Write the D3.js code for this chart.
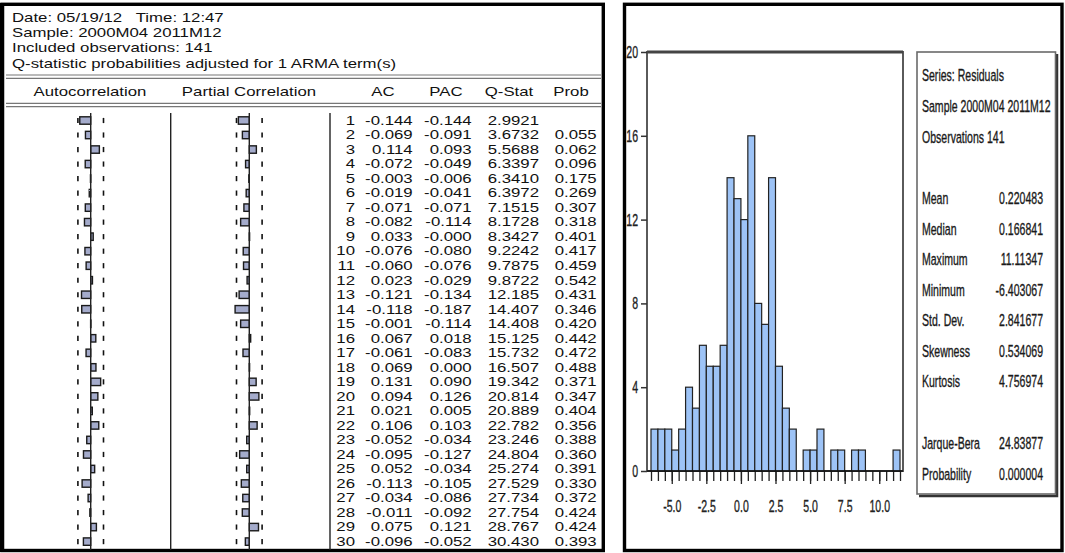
<!DOCTYPE html>
<html>
<head>
<meta charset="utf-8">
<script src="https://cdn.jsdelivr.net/npm/d3@7"></script>
<style>
  body { margin: 0; background: #fff; }
  svg { display: block; }
  text { font-family: 'Liberation Sans', Arial, sans-serif; white-space: pre; }
</style>
</head>
<body>
<svg width="1065" height="553"></svg>
<script>
// ---- correlogram data ----
const headerLines = [
  'Date: 05/19/12   Time: 12:47',
  'Sample: 2000M04 2011M12',
  'Included observations: 141',
  'Q-statistic probabilities adjusted for 1 ARMA term(s)'
];
const lags = [1,2,3,4,5,6,7,8,9,10,11,12,13,14,15,16,17,18,19,20,21,22,23,24,25,26,27,28,29,30];
const acValues = [-0.144,-0.069,0.114,-0.072,-0.003,-0.019,-0.071,-0.082,0.033,-0.076,
                  -0.060,0.023,-0.121,-0.118,-0.001,0.067,-0.061,0.069,0.131,0.094,
                  0.021,0.106,-0.052,-0.095,0.052,-0.113,-0.034,-0.011,0.075,-0.096];
const pacValues = [-0.144,-0.091,0.093,-0.049,-0.006,-0.041,-0.071,-0.114,-0,-0.080,
                   -0.076,-0.029,-0.134,-0.187,-0.114,0.018,-0.083,0.000,0.090,0.126,
                   0.005,0.103,-0.034,-0.127,-0.034,-0.105,-0.086,-0.092,0.121,-0.052];
const qStats = [2.9921,3.6732,5.5688,6.3397,6.3410,6.3972,7.1515,8.1728,8.3427,9.2242,
                9.7875,9.8722,12.185,14.407,14.408,15.125,15.732,16.507,19.342,20.814,
                20.889,22.782,23.246,24.804,25.274,27.529,27.734,27.754,28.767,30.430];
const probs = [null,0.055,0.062,0.096,0.175,0.269,0.307,0.318,0.401,0.417,
               0.459,0.542,0.431,0.346,0.420,0.442,0.472,0.488,0.371,0.347,
               0.404,0.356,0.388,0.360,0.391,0.330,0.372,0.424,0.424,0.393];
const nObs = 141;

// ---- histogram data ----
const binStarts = [-6.5,-6.0,-5.5,-5.0,-4.5,-4.0,-3.5,-3.0,-2.5,-2.0,-1.5,-1.0,-0.5,0.0,0.5,1.0,1.5,2.0,
                   2.5,3.0,3.5,4.0,4.5,5.0,5.5,6.0,6.5,7.0,7.5,8.0,8.5,9.0,9.5,10.0,10.5,11.0];
const binCounts = [2,2,2,1,2,4,3,6,5,5,6,14,13,12,16,8,7,14,
                   5,3,2,0,1,1,2,0,1,1,0,1,1,0,0,0,0,1];
const binWidth = 0.5;
const xTickLabels = [-5.0,-2.5,0.0,2.5,5.0,7.5,10.0];
const yTickLabels = [0,4,8,12,16,20];

const statsHead = ['Series: Residuals','Sample 2000M04 2011M12','Observations 141'];
const statsNames = ['Mean','Median','Maximum','Minimum','Std. Dev.','Skewness','Kurtosis','Jarque-Bera','Probability'];
const statsValues = ['0.220483','0.166841','11.11347','-6.403067','2.841677','0.534069','4.756974','24.83877','0.000004'];

const svg = d3.select('svg');

// text helper: stretched / narrowed text like the screenshot
const addText = (g, x, y, s, o = {}) => g.append('text')
  .attr('transform', `translate(${x},${y}) scale(${o.sx || 1},1)`)
  .attr('text-anchor', o.anchor || 'start')
  .style('font-size', (o.size || 12) + 'px')
  .attr('fill', o.fill || '#000')
  .attr('stroke', o.bold ? (o.fill || '#000') : 'none')
  .attr('stroke-width', o.bold || 0)
  .text(s);

// ================= LEFT PANEL =================
const left = svg.append('g');
left.append('rect').attr('x', 2).attr('y', 4.3).attr('width', 601.3).attr('height', 546.2)
  .attr('fill', 'none').attr('stroke', '#000').attr('stroke-width', 3.4);
left.append('line').attr('x1', 2).attr('x2', 2).attr('y1', 3).attr('y2', 552)
  .attr('stroke', '#000').attr('stroke-width', 4.5);

const SX = 1.4;
headerLines.forEach((s, i) => addText(left, 12, 21.5 + i * 15.4, s, { sx: SX, fill: '#111' }));

[[75, 78.3], [103.3, 106.7]].forEach(pair => pair.forEach(yy =>
  left.append('line').attr('x1', 6).attr('x2', 601).attr('y1', yy).attr('y2', yy)
    .attr('stroke', '#777').attr('stroke-width', 1.2)));

const colHeads = [['Autocorrelation', 90], ['Partial Correlation', 249], ['AC', 383], ['PAC', 446], ['Q-Stat', 509], ['Prob', 571]];
colHeads.forEach(([s, x]) => addText(left, x, 95.5, s, { sx: SX, anchor: 'middle', fill: '#111' }));

const yRow = d3.scaleLinear().domain([1, 30]).range([120.5, 541.6]);
const band = 2 / Math.sqrt(nObs);
const barH = 7.4;

const drawCorr = (cx, values) => {
  const x = d3.scaleLinear().domain([-1, 1]).range([cx - 76, cx + 76]);
  const g = left.append('g');
  // dashed confidence bands
  [-band, band].forEach(b => {
    g.selectAll(null).data(lags).enter().append('line')
      .attr('x1', x(b)).attr('x2', x(b))
      .attr('y1', d => yRow(d) - 2.6).attr('y2', d => yRow(d) + 2.6)
      .attr('stroke', '#111').attr('stroke-width', 1.6);
  });
  g.selectAll('rect').data(values).enter().append('rect')
    .attr('x', d => Math.min(x(d), x(0)))
    .attr('width', d => Math.max(Math.abs(x(d) - x(0)), 0.3))
    .attr('y', (d, i) => yRow(lags[i]) - barH / 2)
    .attr('height', barH)
    .attr('fill', '#a4abcb').attr('stroke', '#1a1a1a').attr('stroke-width', 1.4);
  g.append('line').attr('x1', x(0)).attr('x2', x(0)).attr('y1', 113).attr('y2', 550)
    .attr('stroke', '#222').attr('stroke-width', 1.4);
};
drawCorr(90.7, acValues);
drawCorr(249.3, pacValues);
[170.7, 330].forEach(xx => left.append('line').attr('x1', xx).attr('x2', xx).attr('y1', 113).attr('y2', 550)
  .attr('stroke', '#222').attr('stroke-width', 1.4));

const f3 = v => (v < 0 || Object.is(v, -0) ? '-' : '') + Math.abs(v).toFixed(3);
lags.forEach((lag, i) => {
  const yy = yRow(lag) + 4.3;
  addText(left, 355, yy, String(lag), { sx: SX, anchor: 'end', fill: '#111' });
  addText(left, 412.7, yy, f3(acValues[i]), { sx: SX, anchor: 'end', fill: '#111' });
  addText(left, 471.7, yy, f3(pacValues[i]), { sx: SX, anchor: 'end', fill: '#111' });
  addText(left, 539, yy, qStats[i].toPrecision(5), { sx: SX, anchor: 'end', fill: '#111' });
  if (probs[i] !== null) addText(left, 596.7, yy, probs[i].toFixed(3), { sx: SX, anchor: 'end', fill: '#111' });
});

// ================= RIGHT PANEL =================
const right = svg.append('g');
right.append('rect').attr('x', 624.5).attr('y', 4.3).attr('width', 437.5).attr('height', 546.2)
  .attr('fill', 'none').attr('stroke', '#000').attr('stroke-width', 3.4);

const NX = 0.62;
const xH = d3.scaleLinear().domain([-6.5, 11.5]).range([651, 900]);
const yH = d3.scaleLinear().domain([0, 20]).range([471, 52]);
const frameL = 647, frameR = 903;

right.append('rect').attr('x', frameL).attr('y', yH(20)).attr('width', frameR - frameL).attr('height', yH(0) - yH(20))
  .attr('fill', 'none').attr('stroke', '#5a5a5a').attr('stroke-width', 2);
right.append('line').attr('x1', frameL).attr('x2', frameR).attr('y1', yH(20)).attr('y2', yH(20))
  .attr('stroke', '#444').attr('stroke-width', 3);

binCounts.forEach((c, i) => {
  if (c === 0) return;
  right.append('rect')
    .attr('x', xH(binStarts[i])).attr('width', xH(binStarts[i] + binWidth) - xH(binStarts[i]))
    .attr('y', yH(c)).attr('height', yH(0) - yH(c))
    .attr('fill', '#9dc3f6').attr('stroke', '#222').attr('stroke-width', 1.2);
});

// x axis: minor ticks at every bin edge, labelled major ticks
const edges = binStarts.concat([binStarts[binStarts.length - 1] + binWidth]);
const axMinor = right.append('g').attr('transform', `translate(0,${yH(0)})`)
  .call(d3.axisBottom(xH).tickValues(edges).tickSize(10).tickFormat(''));
const axMajor = right.append('g').attr('transform', `translate(0,${yH(0)})`)
  .call(d3.axisBottom(xH).tickValues(xTickLabels).tickSize(13).tickPadding(16).tickFormat(d => d.toFixed(1)));
[axMinor, axMajor].forEach(a => {
  a.select('.domain').remove();
  a.selectAll('.tick line').attr('stroke', '#222').attr('stroke-width', 1.3);
});
axMajor.selectAll('.tick text')
  .attr('transform', `scale(${NX},1)`)
  .style('font-size', '17px').attr('fill', '#222').attr('stroke', '#222').attr('stroke-width', 0.35)
  .style('font-family', "'Liberation Sans', Arial, sans-serif");
right.append('line').attr('x1', frameL).attr('x2', frameR).attr('y1', yH(0)).attr('y2', yH(0))
  .attr('stroke', '#111').attr('stroke-width', 1.6);

const axY = right.append('g').attr('transform', `translate(${frameL},0)`)
  .call(d3.axisLeft(yH).tickValues(yTickLabels).tickSize(6).tickPadding(3));
axY.select('.domain').remove();
axY.selectAll('.tick line').attr('stroke', '#333').attr('stroke-width', 1.5);
axY.selectAll('.tick text')
  .attr('transform', `translate(-9,0) scale(${NX},1)`).attr('x', 0)
  .style('font-size', '17px').attr('fill', '#222').attr('stroke', '#222').attr('stroke-width', 0.35)
  .style('font-family', "'Liberation Sans', Arial, sans-serif");

// stats box
right.append('polyline').attr('points', '1057,54 1057,496 919,496')
  .attr('fill', 'none').attr('stroke', '#333').attr('stroke-width', 2.5);
right.append('rect').attr('x', 917).attr('y', 52).attr('width', 138.5).attr('height', 442)
  .attr('fill', '#fff').attr('stroke', '#6a6a6a').attr('stroke-width', 1.6);

const sOpt = { size: 17, sx: NX, fill: '#1a1a1a', bold: 0.35 };
const headY = [75, 106, 137];
statsHead.forEach((s, i) => addText(right, 922, headY[i] + 6, s, sOpt));
const rowY = [198, 228.5, 259, 289.5, 320, 350.5, 381, 443, 473.5];
statsNames.forEach((s, i) => {
  addText(right, 922, rowY[i] + 6, s, sOpt);
  addText(right, 1043, rowY[i] + 6, statsValues[i], Object.assign({}, sOpt, { anchor: 'end' }));
});
</script>
</body>
</html>
